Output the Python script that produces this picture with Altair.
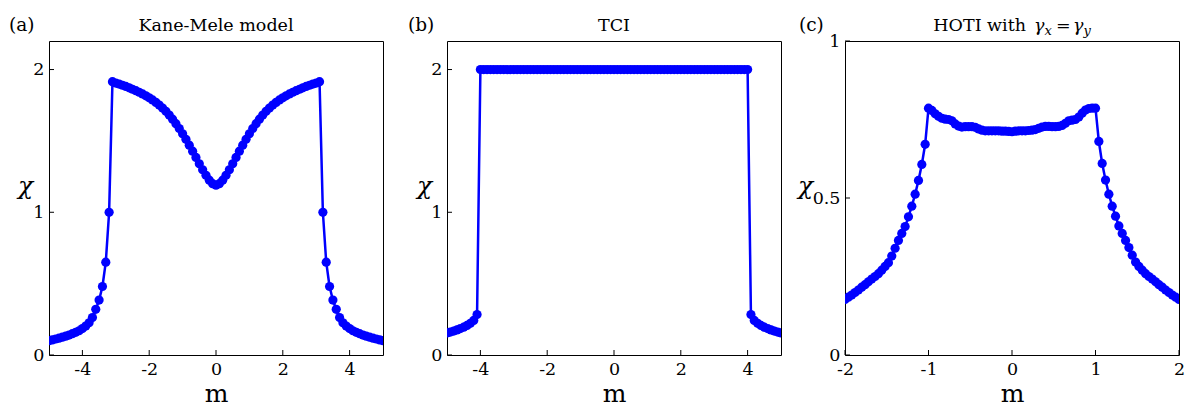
import altair as alt
import pandas as pd

# ---------------- data ----------------
M_AB = [-5.0, -4.9, -4.8, -4.7, -4.6, -4.5, -4.4, -4.3, -4.2, -4.1,
        -4.0, -3.9, -3.8, -3.7, -3.6, -3.5, -3.4, -3.3, -3.2, -3.1,
        -3.0, -2.9, -2.8, -2.7, -2.6, -2.5, -2.4, -2.3, -2.2, -2.1,
        -2.0, -1.9, -1.8, -1.7, -1.6, -1.5, -1.4, -1.3, -1.2, -1.1,
        -1.0, -0.9, -0.8, -0.7, -0.6, -0.5, -0.4, -0.3, -0.2, -0.1,
        0.0,
        0.1, 0.2, 0.3, 0.4, 0.5, 0.6, 0.7, 0.8, 0.9, 1.0,
        1.1, 1.2, 1.3, 1.4, 1.5, 1.6, 1.7, 1.8, 1.9, 2.0,
        2.1, 2.2, 2.3, 2.4, 2.5, 2.6, 2.7, 2.8, 2.9, 3.0,
        3.1, 3.2, 3.3, 3.4, 3.5, 3.6, 3.7, 3.8, 3.9, 4.0,
        4.1, 4.2, 4.3, 4.4, 4.5, 4.6, 4.7, 4.8, 4.9, 5.0]

CHI_A = [0.100, 0.106, 0.112, 0.118, 0.125, 0.132, 0.140, 0.149, 0.159, 0.170,
         0.185, 0.203, 0.226, 0.262, 0.320, 0.385, 0.480, 0.650, 1.000, 1.915,
         1.905, 1.898, 1.890, 1.882, 1.872, 1.862, 1.852, 1.841, 1.829, 1.816,
         1.802, 1.787, 1.770, 1.751, 1.730, 1.707, 1.681, 1.652, 1.621, 1.587,
         1.550, 1.511, 1.470, 1.428, 1.384, 1.340, 1.298, 1.259, 1.225, 1.200,
         1.190,
         1.200, 1.225, 1.259, 1.298, 1.340, 1.384, 1.428, 1.470, 1.511, 1.550,
         1.587, 1.621, 1.652, 1.681, 1.707, 1.730, 1.751, 1.770, 1.787, 1.802,
         1.816, 1.829, 1.841, 1.852, 1.862, 1.872, 1.882, 1.890, 1.898, 1.905,
         1.915, 1.000, 0.650, 0.480, 0.385, 0.320, 0.262, 0.226, 0.203, 0.185,
         0.170, 0.159, 0.149, 0.140, 0.132, 0.125, 0.118, 0.112, 0.106, 0.100]

CHI_B = [0.155, 0.161, 0.168, 0.176, 0.185, 0.195, 0.207, 0.222, 0.242, 0.283,
         2.0, 2.0, 2.0, 2.0, 2.0, 2.0, 2.0, 2.0, 2.0, 2.0,
         2.0, 2.0, 2.0, 2.0, 2.0, 2.0, 2.0, 2.0, 2.0, 2.0,
         2.0, 2.0, 2.0, 2.0, 2.0, 2.0, 2.0, 2.0, 2.0, 2.0,
         2.0, 2.0, 2.0, 2.0, 2.0, 2.0, 2.0, 2.0, 2.0, 2.0,
         2.0,
         2.0, 2.0, 2.0, 2.0, 2.0, 2.0, 2.0, 2.0, 2.0, 2.0,
         2.0, 2.0, 2.0, 2.0, 2.0, 2.0, 2.0, 2.0, 2.0, 2.0,
         2.0, 2.0, 2.0, 2.0, 2.0, 2.0, 2.0, 2.0, 2.0, 2.0,
         2.0, 2.0, 2.0, 2.0, 2.0, 2.0, 2.0, 2.0, 2.0, 2.0,
         0.283, 0.242, 0.222, 0.207, 0.195, 0.185, 0.176, 0.168, 0.161, 0.155]

M_C = [-2.00, -1.96, -1.92, -1.88, -1.84, -1.80, -1.76, -1.72, -1.68, -1.64,
       -1.60, -1.56, -1.52, -1.48, -1.44, -1.40, -1.36, -1.32, -1.28, -1.24,
       -1.20, -1.16, -1.12, -1.08, -1.04, -1.00, -0.96, -0.92, -0.88, -0.84,
       -0.80, -0.76, -0.72, -0.68, -0.64, -0.60, -0.56, -0.52, -0.48, -0.44,
       -0.40, -0.36, -0.32, -0.28, -0.24, -0.20, -0.16, -0.12, -0.08, -0.04,
       0.00,
       0.04, 0.08, 0.12, 0.16, 0.20, 0.24, 0.28, 0.32, 0.36, 0.40,
       0.44, 0.48, 0.52, 0.56, 0.60, 0.64, 0.68, 0.72, 0.76, 0.80,
       0.84, 0.88, 0.92, 0.96, 1.00, 1.04, 1.08, 1.12, 1.16, 1.20,
       1.24, 1.28, 1.32, 1.36, 1.40, 1.44, 1.48, 1.52, 1.56, 1.60,
       1.64, 1.68, 1.72, 1.76, 1.80, 1.84, 1.88, 1.92, 1.96, 2.00]

CHI_C = [0.177, 0.184, 0.191, 0.199, 0.207, 0.216, 0.224, 0.233, 0.242, 0.250,
         0.259, 0.270, 0.282, 0.294, 0.315, 0.340, 0.365, 0.387, 0.409, 0.440,
         0.474, 0.512, 0.556, 0.607, 0.671, 0.786, 0.779, 0.768, 0.760, 0.754,
         0.751, 0.750, 0.746, 0.736, 0.729, 0.726, 0.727, 0.727, 0.727, 0.725,
         0.720, 0.716, 0.714, 0.714, 0.714, 0.714, 0.714, 0.713, 0.713, 0.712,
         0.711,
         0.713, 0.714, 0.714, 0.714, 0.715, 0.716, 0.718, 0.722, 0.726, 0.728,
         0.728, 0.727, 0.727, 0.728, 0.731, 0.738, 0.746, 0.748, 0.750, 0.758,
         0.770, 0.780, 0.785, 0.786, 0.786, 0.680, 0.610, 0.557, 0.512, 0.474,
         0.442, 0.411, 0.387, 0.365, 0.342, 0.318, 0.296, 0.282, 0.270, 0.259,
         0.250, 0.242, 0.233, 0.224, 0.216, 0.207, 0.199, 0.191, 0.184, 0.177]

XTICKS_AB = [-4, -2, 0, 2, 4]
YTICKS_AB = [0, 1, 2]
XTICKS_C = [-2, -1, 0, 1, 2]
YTICKS_C = [0, 0.5, 1]

TITLE_A = "Kane-Mele model"
TITLE_B = "TCI"
LABELS = ["(a)", "(b)", "(c)"]

# ---------------- style ----------------
W, H = 334, 314
FONT = "DejaVu Serif"
BLUE = "#0000ff"
TICK_LEN = 5
FS = 17.5


def text_layer(txt, x, y, size=FS, align="left", style="normal"):
    return alt.Chart(pd.DataFrame({"t": [txt]})).mark_text(
        align=align, baseline="alphabetic", font=FONT, fontSize=size,
        fontStyle=style, color="black"
    ).encode(x=alt.value(x), y=alt.value(y), text="t:N")


def panel(m, chi, xdom, ydom, xticks, yticks, chi_x, texts):
    x_enc = alt.X(
        "m:Q",
        scale=alt.Scale(domain=xdom, nice=False, zero=False),
        axis=alt.Axis(values=xticks, ticks=False, domain=False, grid=False,
                      labelFont=FONT, labelFontSize=FS, labelColor="black",
                      labelPadding=5, labelFlush=False,
                      labelExpr="'' + datum.value",
                      title="m", titleFont=FONT, titleFontSize=25,
                      titleFontWeight="normal", titleColor="black",
                      titleX=W / 2, titleY=46, titleBaseline="alphabetic",
                      titleAlign="center"),
    )
    y_enc = alt.Y(
        "chi:Q",
        scale=alt.Scale(domain=ydom, nice=False, zero=False),
        axis=alt.Axis(values=yticks, ticks=False, domain=False, grid=False,
                      labelFont=FONT, labelFontSize=FS, labelColor="black",
                      labelPadding=5, labelFlush=False,
                      labelExpr="'' + datum.value",
                      title="χ", titleFont=FONT, titleFontSize=25,
                      titleFontWeight="normal", titleFontStyle="italic",
                      titleColor="black", titleAngle=0,
                      titleX=chi_x, titleY=152, titleBaseline="alphabetic",
                      titleAlign="center"),
    )
    df = pd.DataFrame({"m": m, "chi": chi})
    line = alt.Chart(df).mark_line(color=BLUE, strokeWidth=2.5, clip=True).encode(
        x=x_enc, y=y_enc)
    pts = alt.Chart(df).mark_circle(color=BLUE, size=85, opacity=1, clip=True).encode(
        x=x_enc, y=y_enc)
    xt = alt.Chart(pd.DataFrame({"m": xticks})).mark_rule(
        color="black", strokeWidth=1).encode(
        x=x_enc, y=alt.value(H), y2=alt.value(H - TICK_LEN))
    yt = alt.Chart(pd.DataFrame({"chi": yticks})).mark_rule(
        color="black", strokeWidth=1).encode(
        y=y_enc, x=alt.value(0), x2=alt.value(TICK_LEN))
    return alt.layer(line, pts, xt, yt, *texts).properties(width=W, height=H)


pa = panel(M_AB, CHI_A, [-5, 5], [0, 2.2], XTICKS_AB, YTICKS_AB, -24, [
    text_layer(LABELS[0], -40, -10, size=18.5),
    text_layer(TITLE_A, W / 2, -10, align="center"),
])
pb = panel(M_AB, CHI_B, [-5, 5], [0, 2.2], XTICKS_AB, YTICKS_AB, -23, [
    text_layer(LABELS[1], -39, -10, size=18.5),
    text_layer(TITLE_B, W / 2, -10, align="center"),
])
pc = panel(M_C, CHI_C, [-2, 2], [0, 1], XTICKS_C, YTICKS_C, -40, [
    text_layer(LABELS[2], -46, -10, size=18.5),
    text_layer("HOTI with", 181, -10, align="right"),
    text_layer("γ", 189, -10, style="italic"),
    text_layer("x", 199.5, -6, size=13, style="italic"),
    text_layer("=", 211, -10),
    text_layer("γ", 228, -10, style="italic"),
    text_layer("y", 238.5, -6, size=13, style="italic"),
])

chart = alt.hconcat(pa, pb, pc, spacing=64, bounds="flush").configure_view(
    stroke="black", strokeWidth=1
).properties(padding={"left": 0, "top": 7, "right": 5, "bottom": 5})

chart.save("out.html", embed_options={"renderer": "svg", "actions": False})
